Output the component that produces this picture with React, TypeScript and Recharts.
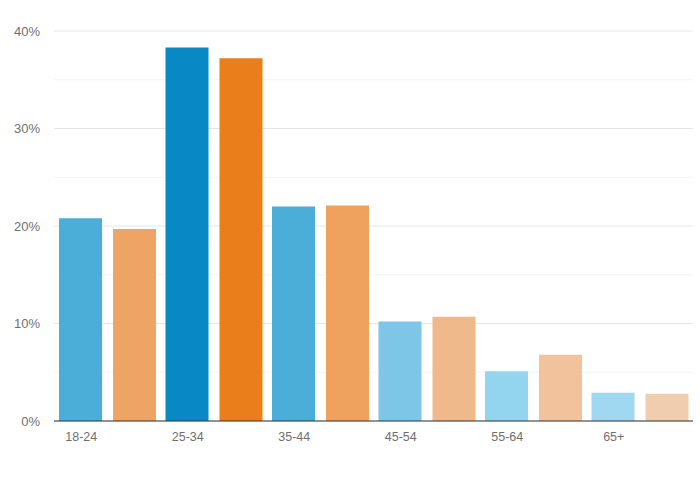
import { BarChart, Bar, Cell, XAxis, YAxis, CartesianGrid } from "recharts"

const categories = ["18-24", "25-34", "35-44", "45-54", "55-64", "65+"]
const seriesA = [20.8, 38.3, 22.0, 10.2, 5.1, 2.9]
const seriesB = [19.7, 37.2, 22.1, 10.7, 6.8, 2.8]
const yTicks = [0, 10, 20, 30, 40]
const minorLines = [5, 15, 25, 35]

// each age group has its own shade
const BLUES = ["#4baed9", "#0889c6", "#4aaed8", "#7dc6e7", "#93d4ee", "#a1d8f1"]
const ORANGES = ["#eea464", "#ea7e1b", "#eea25d", "#f0b98b", "#f1c29b", "#f1cdaf"]

const data = categories.map((name, i) => ({ name, a: seriesA[i], b: seriesB[i] }))

// labels sit under the first bar of each group, not the group centre
function AgeTick({ x, y, payload }: any) {
  return (
    <text x={x - 26} y={y} dy="0.71em" textAnchor="middle" fill="#6f6f6f" fontSize={12.5}>
      {payload.value}
    </text>
  )
}

export default function App() {
  return (
    <div style={{ position: "absolute", left: 0, top: 0, width: 700, height: 483, background: "#fff" }}>
      <BarChart
        width={700}
        height={483}
        data={data}
        margin={{ top: 31, right: 7, left: 0, bottom: 32 }}
        barGap={11}
        barCategoryGap={5}
        style={{ fontFamily: "'Liberation Sans', Arial, sans-serif" }}
      >
        <CartesianGrid vertical={false} horizontalValues={minorLines} stroke="#f3f3f3" />
        <CartesianGrid vertical={false} horizontalValues={yTicks} stroke="#e6e6e6" />
        <XAxis
          dataKey="name"
          height={30}
          tick={<AgeTick />}
          tickLine={false}
          tickSize={0}
          tickMargin={11}
          stroke="#333"
        />
        <YAxis
          width={54}
          domain={[0, 40]}
          ticks={yTicks}
          tickFormatter={(v) => `${v}%`}
          axisLine={false}
          tickLine={false}
          tickSize={0}
          tickMargin={14}
          tick={{ fill: "#6f6f6f", fontSize: 13 }}
        />
        <Bar dataKey="a" isAnimationActive={false}>
          {data.map((_, i) => (
            <Cell key={`a-${i}`} fill={BLUES[i]} />
          ))}
        </Bar>
        <Bar dataKey="b" isAnimationActive={false}>
          {data.map((_, i) => (
            <Cell key={`b-${i}`} fill={ORANGES[i]} />
          ))}
        </Bar>
      </BarChart>
    </div>
  )
}
